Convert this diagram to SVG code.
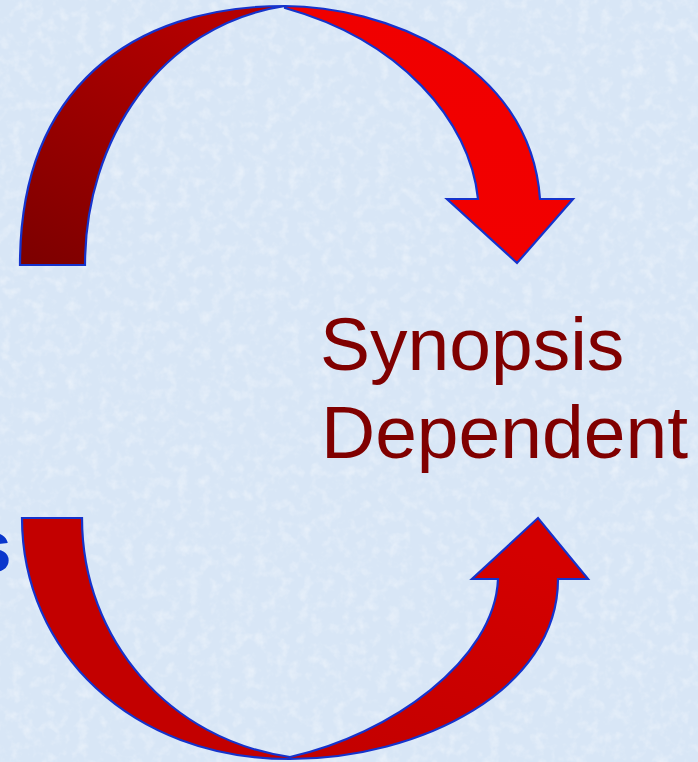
<svg xmlns="http://www.w3.org/2000/svg" width="698" height="762" viewBox="0 0 698 762">
  <defs>
    <style>
      .band { stroke: #1533cc; stroke-width: 2.2; stroke-linejoin: miter; }
      .label { font-family: "Liberation Sans", Arial, sans-serif; font-size: 75px; }
    </style>
    <linearGradient id="gTopLeft" x1="0" y1="1" x2="0.6" y2="0">
      <stop offset="0" stop-color="#7c0000"/>
      <stop offset="1" stop-color="#b40000"/>
    </linearGradient>
    <linearGradient id="gTopRight" x1="0" y1="0" x2="0" y2="1">
      <stop offset="0" stop-color="#f00000"/>
      <stop offset="1" stop-color="#f20000"/>
    </linearGradient>
    <linearGradient id="gBotRight" x1="0" y1="1" x2="0.5" y2="0">
      <stop offset="0" stop-color="#c20000"/>
      <stop offset="1" stop-color="#d40000"/>
    </linearGradient>
    <filter id="tex" x="0" y="0" width="100%" height="100%">
      <feTurbulence type="fractalNoise" baseFrequency="0.09" numOctaves="3" seed="4" result="n"/>
      <feColorMatrix in="n" type="matrix" values="0 0 0 0 1  0 0 0 0 1  0 0 0 0 1  0 0 0 1.6 -0.75"/>
    </filter>
  </defs>

  <rect x="0" y="0" width="698" height="762" fill="#d8e6f6"/>
  <rect x="0" y="0" width="698" height="762" filter="url(#tex)" opacity="0.55"/>

  <g id="connectors">
    <g id="arrow-top">
      <path class="band" fill="url(#gTopLeft)" d="M20,265 C20,90 130,6 285,6 C160,25 85,140 85,265 Z"/>
      <path class="band" fill="url(#gTopRight)" d="M285,6 C380,6 530,60 540,199 L573,199 L517,263 L447,199 L478,199 C470,120 400,40 285,8 Z"/>
    </g>
    <g id="arrow-bottom">
      <path class="band" fill="#c30000" d="M22,518 L82,518 C82,640 170,740 290,757 L290,759 C130,759 22,650 22,518 Z"/>
      <path class="band" fill="url(#gBotRight)" d="M290,759 C420,759 558,690 558,579 L588,579 L538,518 L472,579 L498,579 C495,660 390,735 290,757 Z"/>
    </g>
  </g>

  <g id="node-synopsis-dependent">
    <text class="label" fill="#800000" x="320" y="370">Synopsis</text>
    <text class="label" fill="#800000" x="321" y="458">Dependent</text>
  </g>

  <g id="node-left-label">
    <text class="label" fill="#0a36cc" font-weight="bold" x="-30" y="572">s</text>
  </g>
</svg>
